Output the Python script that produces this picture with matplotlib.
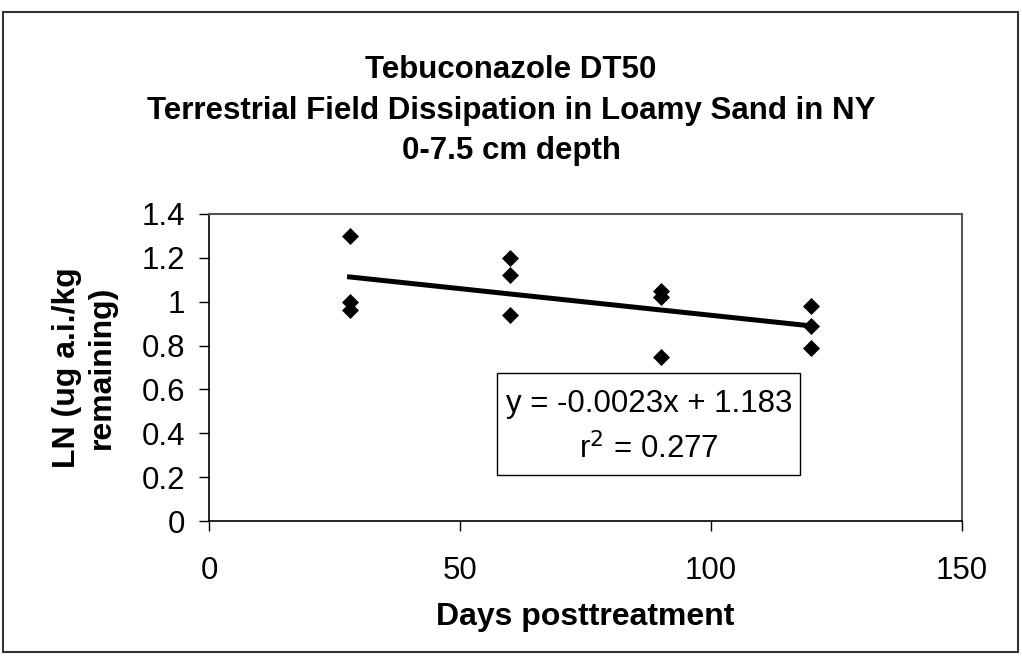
import numpy as np
import matplotlib
matplotlib.use("Agg")
import matplotlib.pyplot as plt
from matplotlib.patches import Rectangle

plt.rcParams['font.family'] = ['Liberation Sans', 'DejaVu Sans']

# days after treatment, three replicate samples each
days = [28, 28, 28, 60, 60, 60, 90, 90, 90, 120, 120, 120]
ln_resid = [1.30, 1.00, 0.96, 1.20, 1.12, 0.94, 1.05, 1.02, 0.75, 0.98, 0.89, 0.79]

title_lines = ["Tebuconazole DT50",
               "Terrestrial Field Dissipation in Loamy Sand in NY",
               "0-7.5 cm depth"]
eq_text = "y = -0.0023x + 1.183"
r2_text = "r$^2$ = 0.277"

xticks = [0, 50, 100, 150]
yticks = [0, 0.2, 0.4, 0.6, 0.8, 1, 1.2, 1.4]
yticklabels = ["0", "0.2", "0.4", "0.6", "0.8", "1", "1.2", "1.4"]

fig = plt.figure(figsize=(10.22, 6.58), dpi=100)
ax = fig.add_axes([0.2045, 0.2082, 0.7368, 0.4666])

ax.scatter(days, ln_resid, marker='D', s=75, color='black', zorder=3, linewidths=0)

# linear trendline
slope, icpt = np.polyfit(days, ln_resid, 1)
xl = np.array([min(days), max(days)])
ax.plot(xl, slope * xl + icpt, color='black', lw=3.6, zorder=2)

ax.set_xlim(0, 150)
ax.set_ylim(0, 1.4)
ax.set_xticks(xticks)
ax.set_xticklabels([str(t) for t in xticks])
ax.set_yticks(yticks)
ax.set_yticklabels(yticklabels)
ax.tick_params(axis='both', direction='out', length=7, width=1, labelsize=22.5, colors='black')
ax.tick_params(axis='x', pad=18)
ax.tick_params(axis='y', pad=10)

for s in ['left', 'bottom']:
    ax.spines[s].set_color('black')
    ax.spines[s].set_linewidth(1.2)
for s in ['top', 'right']:
    ax.spines[s].set_color('#555555')
    ax.spines[s].set_linewidth(1.5)

ax.set_xlabel("Days posttreatment", fontsize=23, fontweight='bold', labelpad=12)
ax.set_ylabel("LN (ug a.i./kg\nremaining)", fontsize=23, fontweight='bold', labelpad=18,
              linespacing=1.2)

# equation box
ax.add_patch(Rectangle((0.383, 0.15), 0.402, 0.332, transform=ax.transAxes,
                       fill=False, edgecolor='black', lw=1.0, zorder=4))
ax.text(0.584, 0.38, eq_text, transform=ax.transAxes, ha='center', va='center', fontsize=22.5)
ax.text(0.584, 0.235, r2_text, transform=ax.transAxes, ha='center', va='center', fontsize=22.5)

fig.text(0.5, 0.832, "\n".join(title_lines), ha='center', va='center',
         fontsize=22.5, fontweight='bold', linespacing=1.45)

# outer chart border
fig.add_artist(Rectangle((0.003, 0.009), 0.993, 0.973, transform=fig.transFigure,
                         fill=False, edgecolor='#333333', lw=1.5))

fig.savefig("out.png", dpi=100)
